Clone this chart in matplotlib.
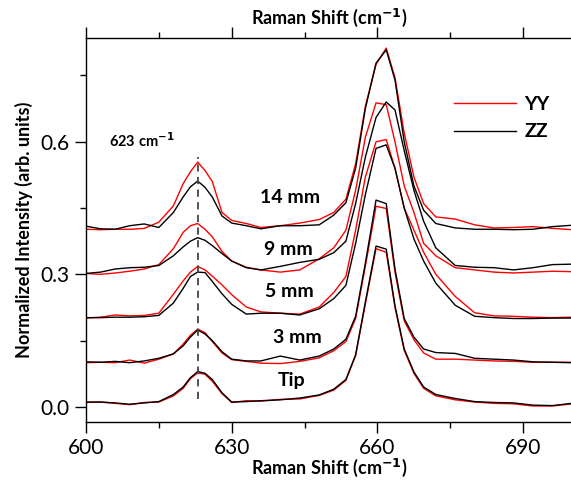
import matplotlib.pyplot as plt
from matplotlib.ticker import MultipleLocator

plt.rcParams['font.family'] = ['Lato', 'DejaVu Sans']

# Raman shift grid (cm-1)
shift = [600, 603, 606, 609, 612, 615, 618, 620, 621.5, 623, 624.5, 626, 628, 630,
         633, 636, 640, 644, 648, 651, 653.5, 655.5, 657.5, 659.7, 661.8, 663.6,
         665.5, 667.5, 669.5, 672, 676, 680, 684, 688, 692, 696, 700]

# normalized intensities (already offset), YY = red, ZZ = black
tip_yy = [0.010, 0.011, 0.008, 0.005, 0.010, 0.011, 0.025, 0.042, 0.064, 0.077, 0.074, 0.058, 0.030,
          0.010, 0.014, 0.013, 0.017, 0.018, 0.026, 0.038, 0.060, 0.116, 0.233, 0.358, 0.350, 0.225,
          0.128, 0.076, 0.042, 0.025, 0.016, 0.011, 0.008, 0.007, 0.002, 0.002, 0.007]
tip_zz = [0.011, 0.011, 0.009, 0.006, 0.009, 0.012, 0.028, 0.045, 0.066, 0.080, 0.076, 0.062, 0.032,
          0.011, 0.012, 0.014, 0.016, 0.020, 0.027, 0.040, 0.062, 0.118, 0.237, 0.364, 0.357, 0.229,
          0.131, 0.079, 0.045, 0.028, 0.019, 0.012, 0.010, 0.009, 0.004, 0.003, 0.008]

mm3_yy = [0.100, 0.101, 0.100, 0.106, 0.099, 0.108, 0.120, 0.142, 0.162, 0.176, 0.168, 0.148, 0.122,
          0.107, 0.103, 0.099, 0.098, 0.103, 0.111, 0.127, 0.148, 0.200, 0.318, 0.454, 0.449, 0.305,
          0.195, 0.152, 0.122, 0.108, 0.108, 0.106, 0.104, 0.103, 0.101, 0.101, 0.101]
mm3_zz = [0.102, 0.101, 0.103, 0.100, 0.104, 0.110, 0.120, 0.138, 0.158, 0.174, 0.165, 0.150, 0.125,
          0.108, 0.104, 0.104, 0.115, 0.106, 0.115, 0.131, 0.153, 0.205, 0.325, 0.468, 0.460, 0.312,
          0.200, 0.158, 0.131, 0.123, 0.121, 0.110, 0.108, 0.106, 0.102, 0.101, 0.100]

mm5_yy = [0.201, 0.203, 0.208, 0.206, 0.207, 0.212, 0.255, 0.285, 0.305, 0.318, 0.310, 0.296, 0.276,
          0.254, 0.226, 0.215, 0.212, 0.210, 0.226, 0.259, 0.295, 0.400, 0.520, 0.600, 0.605, 0.540,
          0.450, 0.400, 0.350, 0.300, 0.250, 0.213, 0.206, 0.205, 0.203, 0.202, 0.203]
mm5_zz = [0.202, 0.202, 0.203, 0.203, 0.204, 0.207, 0.235, 0.268, 0.295, 0.305, 0.304, 0.284, 0.256,
          0.232, 0.210, 0.212, 0.212, 0.208, 0.222, 0.245, 0.275, 0.370, 0.480, 0.585, 0.593, 0.540,
          0.450, 0.380, 0.330, 0.280, 0.230, 0.205, 0.202, 0.200, 0.200, 0.201, 0.201]

mm9_yy = [0.302, 0.300, 0.303, 0.307, 0.312, 0.322, 0.358, 0.395, 0.410, 0.415, 0.402, 0.385, 0.352,
          0.330, 0.316, 0.310, 0.305, 0.310, 0.335, 0.360, 0.400, 0.490, 0.610, 0.688, 0.684, 0.600,
          0.500, 0.440, 0.370, 0.342, 0.315, 0.310, 0.305, 0.303, 0.305, 0.307, 0.306]
mm9_zz = [0.302, 0.305, 0.312, 0.315, 0.316, 0.320, 0.342, 0.362, 0.375, 0.383, 0.377, 0.365, 0.347,
          0.330, 0.315, 0.310, 0.318, 0.327, 0.334, 0.349, 0.375, 0.460, 0.565, 0.655, 0.690, 0.672,
          0.580, 0.490, 0.420, 0.360, 0.320, 0.316, 0.315, 0.310, 0.315, 0.322, 0.323]

mm14_yy = [0.402, 0.401, 0.402, 0.402, 0.404, 0.418, 0.455, 0.505, 0.532, 0.554, 0.535, 0.510, 0.440,
           0.422, 0.415, 0.406, 0.410, 0.416, 0.424, 0.440, 0.470, 0.550, 0.680, 0.775, 0.812, 0.745,
           0.620, 0.520, 0.460, 0.430, 0.425, 0.412, 0.405, 0.406, 0.408, 0.404, 0.401]
mm14_zz = [0.409, 0.403, 0.402, 0.410, 0.414, 0.406, 0.440, 0.475, 0.498, 0.511, 0.497, 0.475, 0.432,
           0.416, 0.410, 0.403, 0.410, 0.410, 0.412, 0.434, 0.462, 0.540, 0.675, 0.778, 0.808, 0.740,
           0.600, 0.500, 0.445, 0.415, 0.405, 0.402, 0.402, 0.401, 0.402, 0.408, 0.411]

curves = [(tip_yy, tip_zz), (mm3_yy, mm3_zz), (mm5_yy, mm5_zz), (mm9_yy, mm9_zz), (mm14_yy, mm14_zz)]
names = ['Tip', '3 mm', '5 mm', '9 mm', '14 mm']
name_pos = [(642.4, 0.059), (643.5, 0.158), (641.8, 0.262), (641.6, 0.357), (642.0, 0.474)]

fig = plt.figure(figsize=(5.71, 4.8), dpi=100)
ax = fig.add_axes([0.1505, 0.121, 0.851, 0.800])

for i, (yy, zz) in enumerate(curves):
    ax.plot(shift, yy, color='red', lw=1.0, label='YY' if i == 0 else None)
    ax.plot(shift, zz, color='black', lw=1.0, label='ZZ' if i == 0 else None)
    ax.text(name_pos[i][0], name_pos[i][1], names[i], fontsize=14, fontweight='bold',
            ha='center', va='center')

ax.plot([623, 623], [0.018, 0.565], color='#444444', lw=1.3, ls=(0, (4, 3)))
ax.text(604.8, 0.603, '623 cm$^{\\mathbf{-1}}$', fontsize=10.5, fontweight='bold',
        ha='left', va='center')

ax.set_xlim(600, 700)
ax.set_ylim(-0.034, 0.835)
ax.xaxis.set_major_locator(MultipleLocator(30))
ax.xaxis.set_minor_locator(MultipleLocator(15))
ax.yaxis.set_major_locator(MultipleLocator(0.3))
ax.yaxis.set_minor_locator(MultipleLocator(0.15))
ax.yaxis.set_major_formatter(plt.FuncFormatter(lambda v, p: f'{v:.1f}'))
ax.tick_params(which='both', direction='out', top=True, labelsize=15, width=1)
ax.tick_params(which='major', length=8)
ax.tick_params(which='minor', length=4)
ax.spines['right'].set_visible(False)
for s in ['left', 'bottom', 'top']:
    ax.spines[s].set_linewidth(1.0)

ax.set_xlabel('Raman Shift (cm$^{\\mathbf{-1}}$)', fontsize=13, fontweight='bold', labelpad=-1)
ax.set_ylabel('Normalized Intensity (arb. units)', fontsize=13, fontweight='bold', labelpad=6)
top = ax.secondary_xaxis('top')
top.tick_params(which='both', labeltop=False, length=0)
top.set_xlabel('Raman Shift (cm$^{\\mathbf{-1}}$)', fontsize=13, fontweight='bold', labelpad=10)
top.spines['top'].set_visible(False)

leg = ax.legend(loc='upper right', bbox_to_anchor=(0.99, 0.895), frameon=False,
                handlelength=3.2, handletextpad=0.4, labelspacing=0.55,
                prop={'size': 14, 'weight': 'bold'})

fig.savefig('out.png', dpi=100)
